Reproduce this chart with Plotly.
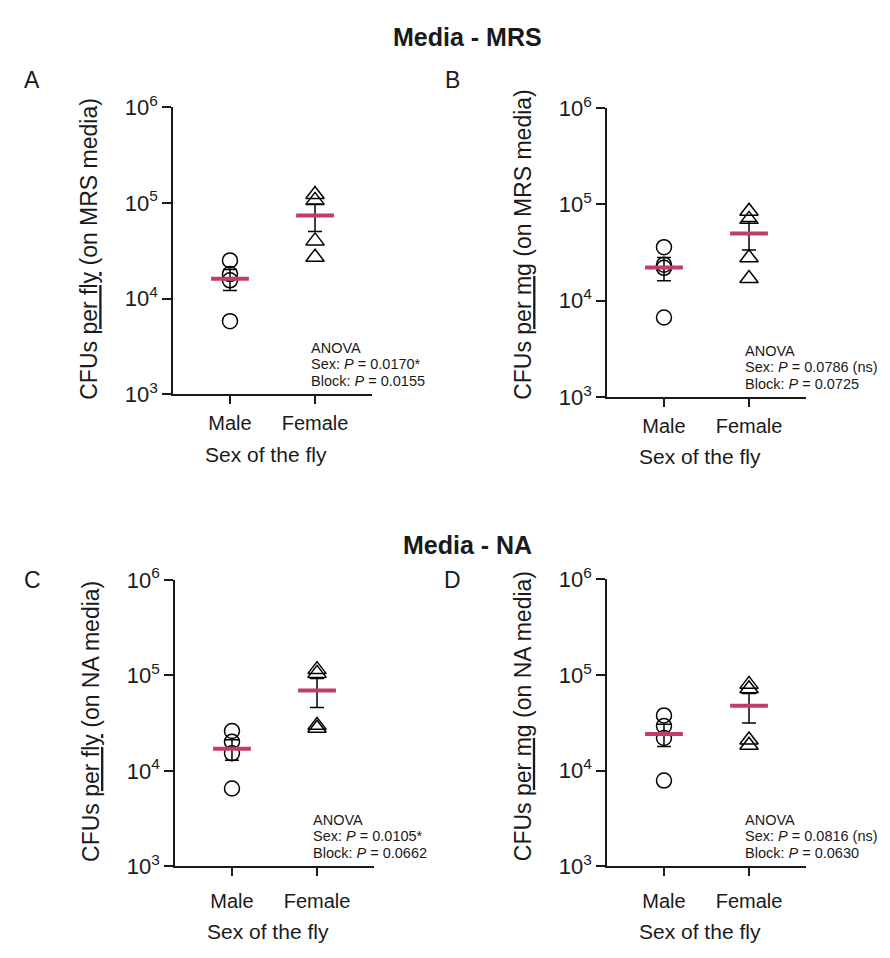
import numpy as np
import plotly.graph_objects as go

W, H = 890, 958

categories = ["Male", "Female"]

# panel data (CFUs)
a_male = [25000, 18000, 15500, 5800]
a_female = [122000, 106000, 40000, 27000]
b_male = [36000, 23700, 22000, 6700]
b_female = [85000, 70000, 28000, 17000]
c_male = [26200, 20200, 15300, 6550]
c_female = [115000, 105000, 30000, 28000]
d_male = [37900, 29400, 22000, 7900]
d_female = [80000, 72000, 21000, 18500]

ytick_vals = [1e3, 1e4, 1e5, 1e6]
ytick_text = ["10<sup>3</sup>", "10<sup>4</sup>", "10<sup>5</sup>", "10<sup>6</sup>"]

panel_letters = ["A", "B", "C", "D"]
y_titles = [
    "CFUs <u>per fly</u> (on MRS media)",
    "CFUs <u>per mg</u> (on MRS media)",
    "CFUs <u>per fly</u> (on NA media)",
    "CFUs <u>per mg</u> (on NA media)",
]
anova_sex = ["0.0170*", "0.0786 (ns)", "0.0105*", "0.0816 (ns)"]
anova_block = ["0.0155", "0.0725", "0.0662", "0.0630"]
section_titles = ["Media - MRS", "Media - NA"]

panels = [
    (a_male, a_female),
    (b_male, b_female),
    (c_male, c_female),
    (d_male, d_female),
]

# plot-area pixel boxes: (x0, x1, ytop, ybottom)
boxes = [
    (173, 372, 94, 390),
    (607, 806, 95, 393),
    (175, 374, 581.5, 877),
    (607, 806, 581, 877),
]
ytitle_centers = [240, 236, 728, 722]
letter_pos = [(32, 66), (452, 66), (32, 582), (452, 582)]
xtitle_y = [452, 454, 944, 944]
xlabel_standoff = [2, 2, 8, 8]

FONT = "Arial, Liberation Sans, Helvetica, sans-serif"
PINK = "#C23B6E"
INK = "#1a1a1a"

def px(x, y):
    return x / W, 1 - y / H

fig = go.Figure()
layout = dict(
    width=W, height=H, autosize=False,
    margin=dict(l=0, r=0, t=0, b=0),
    paper_bgcolor="white", plot_bgcolor="white",
    showlegend=False,
    font=dict(family=FONT, color=INK),
)
annotations = []

def add_text(text, x, y, size, xanchor="center", yanchor="middle", angle=0):
    ax_, ay_ = px(x, y)
    annotations.append(dict(text=text, x=ax_, y=ay_, xref="paper", yref="paper",
                            showarrow=False, textangle=angle,
                            font=dict(size=size, family=FONT, color=INK),
                            xanchor=xanchor, yanchor=yanchor))

for i, ((male, female), box) in enumerate(zip(panels, boxes)):
    x0, x1, yt, yb = box
    n = "" if i == 0 else str(i + 1)
    xa, ya = "x" + n, "y" + n
    groups = [male, female]
    symbols = ["circle-open", "triangle-up-open"]
    for cat, vals, sym in zip(categories, groups, symbols):
        fig.add_trace(go.Scatter(
            x=[cat] * len(vals), y=vals, mode="markers",
            marker=dict(symbol=sym, size=15 if sym.startswith("circle") else 16,
                        color="black", line=dict(color="black", width=1.5)),
            xaxis=xa, yaxis=ya, hoverinfo="skip",
        ))
    for cat, vals in zip(categories, groups):
        v = np.array(vals, dtype=float)
        mean = v.mean()
        sem = v.std(ddof=1) / np.sqrt(len(v))
        fig.add_trace(go.Scatter(
            x=[cat], y=[mean], mode="markers",
            marker=dict(size=1, color="rgba(0,0,0,0)"),
            error_y=dict(type="data", array=[sem], visible=True,
                         color="black", thickness=1.5, width=7),
            xaxis=xa, yaxis=ya, hoverinfo="skip",
        ))
        fig.add_trace(go.Scatter(
            x=[cat], y=[mean], mode="markers",
            marker=dict(symbol="line-ew", size=27,
                        line=dict(color=PINK, width=4), color=PINK),
            xaxis=xa, yaxis=ya, hoverinfo="skip",
        ))
    dx0, dy1 = px(x0, yt)
    dx1, dy0 = px(x1, yb)
    layout["xaxis" + n] = dict(
        domain=[dx0, dx1], anchor=ya, type="category",
        categoryorder="array", categoryarray=categories,
        range=[-0.67, 1.67],
        showline=True, linecolor=INK, linewidth=1.5,
        ticks="outside", ticklen=8, tickwidth=1.5, tickcolor=INK,
        ticklabelstandoff=xlabel_standoff[i],
        showgrid=False, zeroline=False,
        tickfont=dict(size=20, family=FONT, color=INK),
        fixedrange=True,
    )
    layout["yaxis" + n] = dict(
        domain=[dy0, dy1], anchor=xa, type="log", range=[3, 6],
        tickvals=ytick_vals, ticktext=ytick_text,
        showline=True, linecolor=INK, linewidth=1.5,
        ticks="outside", ticklen=9, tickwidth=1.5, tickcolor=INK,
        showgrid=False, zeroline=False,
        tickfont=dict(size=22, family=FONT, color=INK),
        fixedrange=True,
    )
    # panel letter
    add_text(panel_letters[i], letter_pos[i][0], letter_pos[i][1], 23)
    # y title
    add_text(y_titles[i], x0 - 84, ytitle_centers[i], 23, angle=-90)
    # x title
    add_text("Sex of the fly", (x0 + x1) / 2 - 7, xtitle_y[i], 21)
    # ANOVA text, one line each
    tx = x0 + 136
    lines = ["ANOVA",
             "Sex: <i>P</i> = " + anova_sex[i],
             "Block: <i>P</i> = " + anova_block[i]]
    for k, line in enumerate(lines):
        add_text(line, tx, yb - 48 + 17 * k, 14.5, xanchor="left")

for j, t in enumerate(section_titles):
    add_text("<b>" + t + "</b>", 467, 22 if j == 0 else 545, 25)

layout["annotations"] = annotations
fig.update_layout(**layout)
fig.write_html("out.html")
